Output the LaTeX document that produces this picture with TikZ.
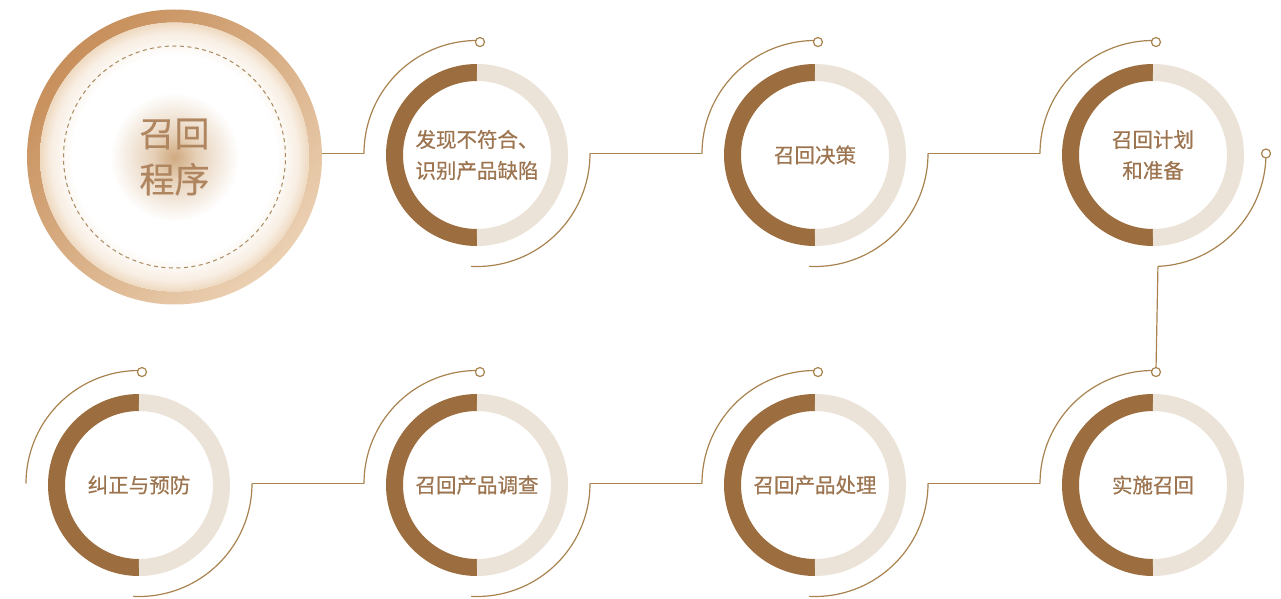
\documentclass[tikz,border=0pt]{standalone}
\usepackage{fontspec}
\usepackage{tikz}
\usetikzlibrary{backgrounds}
\setmainfont{Noto Sans CJK SC}
\newfontfamily\ringfont{Noto Sans CJK SC}[FakeBold=0.6]
\newfontfamily\bigfont{Noto Sans CJK SC}[FakeBold=0.4]

\definecolor{ringdk}{HTML}{9B6D3F}
\definecolor{ringlt}{HTML}{EBE2D8}
\definecolor{linec}{HTML}{A8834F}
\definecolor{textc}{HTML}{9C7550}
\definecolor{bigtext}{HTML}{B08660}
\definecolor{dashc}{HTML}{A98A5E}
\definecolor{rimdk}{HTML}{C78F5B}
\definecolor{rimlt}{HTML}{EBD0B2}
\definecolor{glowc}{HTML}{CFA97F}
\definecolor{glowm}{HTML}{E6D0B7}
\definecolor{glowe}{HTML}{EFD9C0}

% the path radius is at 25bp
\pgfdeclareradialshading{glow}{\pgfpoint{0bp}{0bp}}{color(0bp)=(glowc); color(4bp)=(glowm); color(12bp)=(white); color(19bp)=(white); color(23bp)=(glowe!45!white); color(25bp)=(glowe); color(50bp)=(glowe)}

\tikzset{
  stepring/.style={circle, minimum size=182pt, inner sep=0pt, align=center,
    font=\ringfont\fontsize{20.5}{31}\selectfont, text=textc},
  bigdisc/.style={circle, minimum size=295pt, inner sep=0pt, align=center,
    font=\bigfont\fontsize{35}{46}\selectfont, text=bigtext},
  darkhalf/.style={draw=ringdk, line width=17pt},
  lighthalf/.style={draw=ringlt, line width=17pt},
  guide/.style={draw=linec, line width=1.2pt},
  knob/.style={draw=linec, line width=1.2pt, fill=white}
}

\begin{document}
\begin{tikzpicture}[x=1pt,y=1pt]
\useasboundingbox (0,0) rectangle (1281,598);

% the program and its steps
\node[bigdisc] (prog) at (174.5,441) {召回\\程序};
\node[stepring] (find) at (477,443) {发现不符合、\\识别产品缺陷};
\node[stepring] (decide) at (815,443) {召回决策};
\node[stepring] (plan) at (1153,443) {召回计划\\和准备};
\node[stepring] (carry) at (1153,113) {实施召回};
\node[stepring] (handle) at (815,113) {召回产品处理};
\node[stepring] (survey) at (477,113) {召回产品调查};
\node[stepring] (prevent) at (139,113) {纠正与预防};

% big disc
\begin{pgfonlayer}{background}
\shade[even odd rule, top color=rimdk, bottom color=rimlt, shading angle=45]
  (prog.center) circle (147.5) (prog.center) circle (134.5);
\shade[shading=glow] (prog.center) circle (134.5);
\draw[dashc, line width=1pt, dash pattern=on 4pt off 3.5pt] (prog.center) circle (111);
\end{pgfonlayer}

% rings and their guide arcs
\foreach \n in {find,decide,plan,carry,handle,survey,prevent}{
  \draw[darkhalf] (\n.center) ++(90:82.5) arc (90:270:82.5);
  \draw[lighthalf] (\n.center) ++(-90:82.5) arc (-90:90:82.5);
  \coordinate (\n-l) at ([xshift=-113pt,yshift=1.5pt]\n.center);
  \coordinate (\n-r) at ([xshift=113pt,yshift=1.5pt]\n.center);
  \coordinate (\n-t) at ([shift={(88.5:113)}]\n.center);
  \draw[guide] (\n-l) arc (180:88.5:113);
}
\foreach \n in {find,decide,handle,survey,prevent}
  \draw[guide] (\n-r) arc (0:-93:113);
\draw[guide] (plan-r) arc (0:-87.5:113) coordinate (plan-b);

% connectors
\draw[guide] (find-l) -- (find-l -| prog.east);
\draw[guide] (find-r) -- (decide-l);
\draw[guide] (decide-r) -- (plan-l);
\draw[guide] (plan-b) -- (carry-t);
\draw[guide] (carry-l) -- (handle-r);
\draw[guide] (handle-l) -- (survey-r);
\draw[guide] (survey-l) -- (prevent-r);

% small knobs
\foreach \n in {find,decide,plan,carry,handle,survey,prevent}
  \draw[knob] (\n-t) circle (4.5);
\draw[knob] (plan-r) circle (4.5);
\end{tikzpicture}
\end{document}
